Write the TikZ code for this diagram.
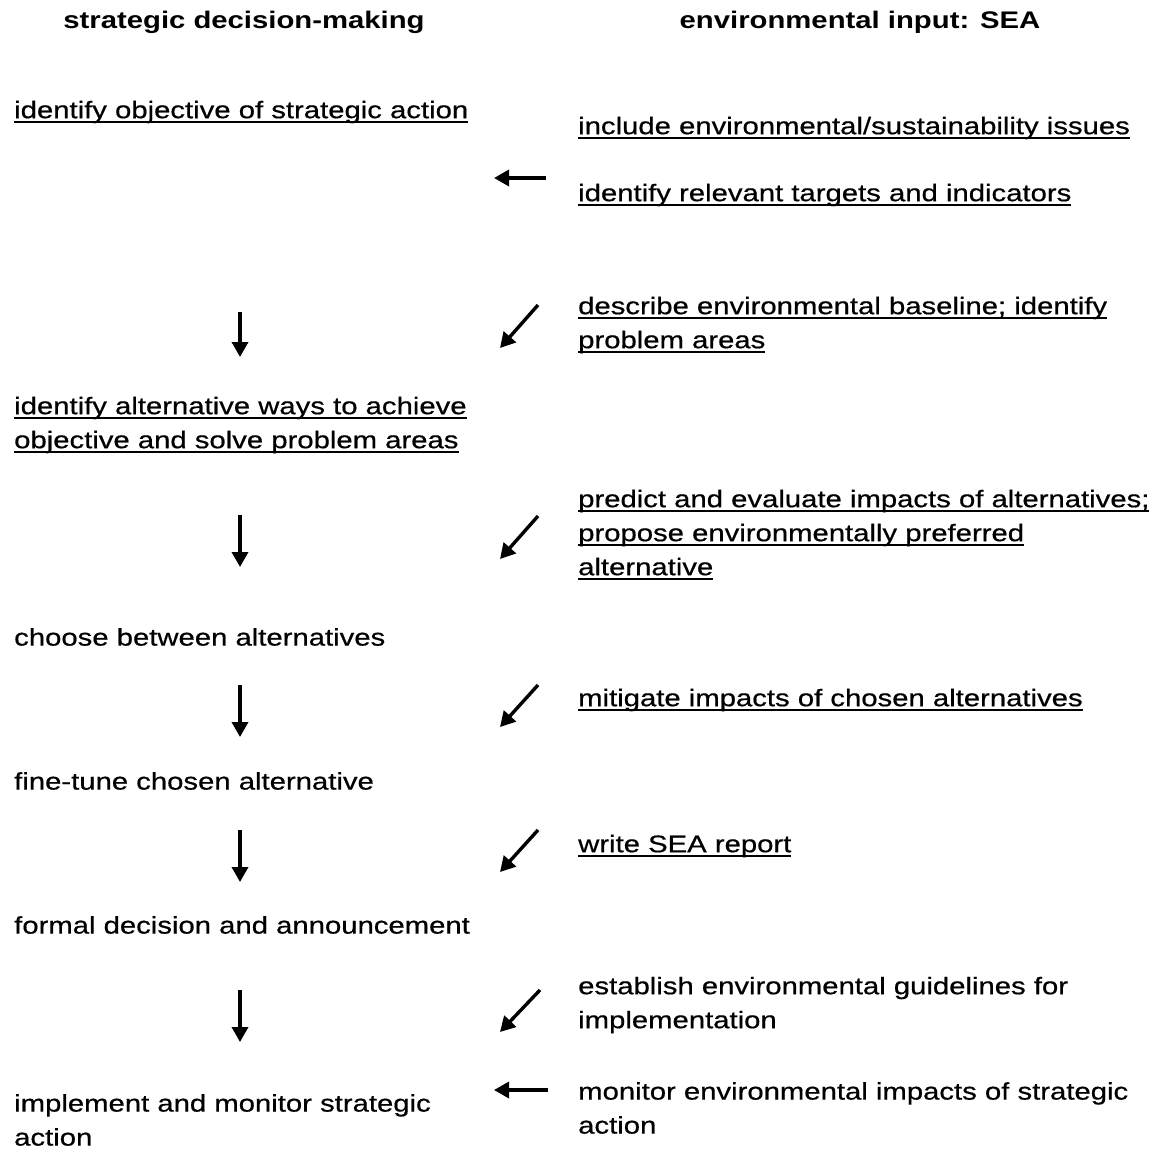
\documentclass[tikz,border=0pt]{standalone}
\usepackage{fontspec}
\setmainfont{Liberation Sans}[FakeStretch=1.22,UprightFeatures={FakeBold=0.6}]
\newcommand{\uly}[1]{\setbox2\hbox{#1}\leavevmode\rlap{\copy2}\rlap{\raisebox{-5pt}{\rule{\wd2}{1.8pt}}}\hbox to \wd2{}}
\usetikzlibrary{arrows.meta}
\begin{document}
\begin{tikzpicture}[x=1pt,y=-1pt,
  txt/.style={anchor=west,align=left,inner sep=0pt,font=\fontsize{24}{34}\selectfont},
  head/.style={anchor=center,inner sep=0pt,font=\fontsize{24}{34}\selectfont\bfseries},
  arr/.style={line width=3.4pt,-{Triangle[length=15pt,width=16pt]}}]
\useasboundingbox (0,0) rectangle (1158,1153);
% headers
\node[head] (h1) at (244,22) {strategic decision-making};
\node[head] (h2) at (860,22) {environmental input: SEA};
% left column
\node[txt] (l1) at (14,112) {\uly{identify objective of strategic action}};
\node[txt] (l2) at (14,425) {\uly{identify alternative ways to achieve}\\\uly{objective and solve problem areas}};
\node[txt] (l3) at (14,637) {choose between alternatives};
\node[txt] (l4) at (14,781) {fine-tune chosen alternative};
\node[txt] (l5) at (14,925) {formal decision and announcement};
\node[txt] (l6) at (14,1120) {implement and monitor strategic\\action};
% right column
\node[txt] (r1) at (578,128) {\uly{include environmental/sustainability issues}};
\node[txt] (r2) at (578,195) {\uly{identify relevant targets and indicators}};
\node[txt] (r3) at (578,325) {\uly{describe environmental baseline; identify}\\\uly{problem areas}};
\node[txt] (r4) at (578,535) {\uly{predict and evaluate impacts of alternatives;}\\\uly{propose environmentally preferred}\\\uly{alternative}};
\node[txt] (r5) at (578,700) {\uly{mitigate impacts of chosen alternatives}};
\node[txt] (r6) at (578,846) {\uly{write SEA report}};
\node[txt] (r7) at (578,1005) {establish environmental guidelines for\\implementation};
\node[txt] (r8) at (578,1108) {monitor environmental impacts of strategic\\action};
% arrow end points
\coordinate (d1a) at (240,312); \coordinate (d1b) at (240,357);
\coordinate (d2a) at (240,515); \coordinate (d2b) at (240,567);
\coordinate (d3a) at (240,685); \coordinate (d3b) at (240,737);
\coordinate (d4a) at (240,830); \coordinate (d4b) at (240,882);
\coordinate (d5a) at (240,990); \coordinate (d5b) at (240,1042);
\coordinate (h1a) at (546,178); \coordinate (h1b) at (494,178);
\coordinate (h2a) at (548,1090); \coordinate (h2b) at (494,1090);
\coordinate (g1a) at (538,305); \coordinate (g1b) at (500,348);
\coordinate (g2a) at (538,516); \coordinate (g2b) at (500,559);
\coordinate (g3a) at (538,685); \coordinate (g3b) at (500,727);
\coordinate (g4a) at (538,830); \coordinate (g4b) at (500,872);
\coordinate (g5a) at (540,990); \coordinate (g5b) at (500,1032);
% arrows
\foreach \a in {d1,d2,d3,d4,d5,h1,h2,g1,g2,g3,g4,g5}
  \draw[arr] (\a a) -- (\a b);
\end{tikzpicture}
\end{document}
